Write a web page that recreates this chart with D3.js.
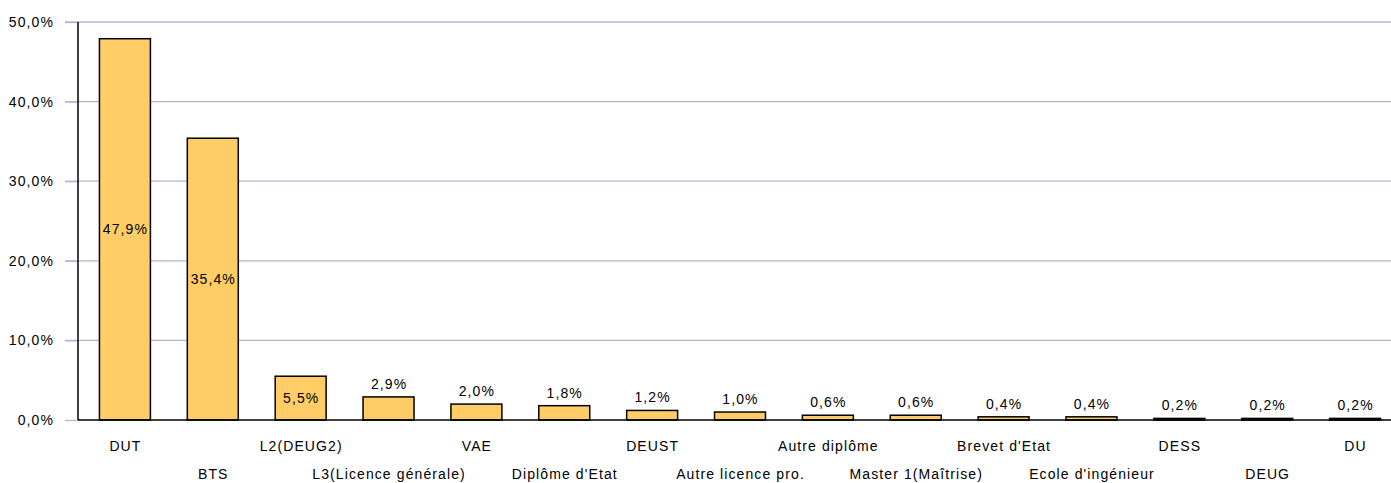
<!DOCTYPE html>
<html><head><meta charset="utf-8">
<script src="https://cdn.jsdelivr.net/npm/d3@7"></script>
<style>
body{margin:0;background:#fff;}
text{font-family:"Liberation Sans",Arial,sans-serif;font-size:14px;fill:#000;}
</style></head><body>
<svg id="c" width="1391" height="483"></svg>
<script>
const categories = ["DUT","BTS","L2(DEUG2)","L3(Licence générale)","VAE","Diplôme d'Etat","DEUST","Autre licence pro.","Autre diplôme","Master 1(Maîtrise)","Brevet d'Etat","Ecole d'ingénieur","DESS","DEUG","DU"];
const values = [47.9,35.4,5.5,2.9,2.0,1.8,1.2,1.0,0.6,0.6,0.4,0.4,0.2,0.2,0.2];
const yTicks = [0,10,20,30,40,50];

const svg = d3.select("#c");
const x0 = 78, yTop = 22, yBot = 420;
const LS = "1.1px";
const x = d3.scaleBand().domain(categories).range([81, 1399]).paddingInner(0.42).paddingOuter(0.21);
const y = d3.scaleLinear().domain([0,50]).range([yBot, yTop]);
const fmt = v => d3.format(".1f")(v).replace(".", ",") + "%";

// gridlines
svg.append("g").selectAll("line").data(yTicks.filter(t=>t>0)).join("line")
  .attr("x1", 65).attr("x2", 1391).attr("y1", d=>y(d)).attr("y2", d=>y(d))
  .attr("stroke", "#b4b4d2").attr("stroke-width", 1.3);

// y axis
const ya = svg.append("g").attr("transform", `translate(${x0},0)`)
  .call(d3.axisLeft(y).tickValues(yTicks).tickFormat(fmt).tickSize(13).tickPadding(11));
ya.select(".domain").remove();
ya.selectAll(".tick line").attr("stroke", "#b4b4d2").attr("stroke-width", 1.3);
ya.selectAll(".tick text").style("font-family","Liberation Sans, Arial, sans-serif").style("font-size","14px").style("letter-spacing", LS).attr("fill","#000");
svg.append("line").attr("x1", x0).attr("x2", x0).attr("y1", yTop).attr("y2", yBot).attr("stroke","#000").attr("stroke-width",1.5);

// bars
svg.append("g").selectAll("rect").data(values).join("rect")
  .attr("x", (d,i)=>x(categories[i])).attr("width", x.bandwidth())
  .attr("y", d=>y(d)).attr("height", d=>yBot - y(d))
  .attr("fill", "#ffcc66").attr("stroke", "#000").attr("stroke-width", 1.5);

// x axis line
svg.append("line").attr("x1", x0).attr("x2", 1391).attr("y1", yBot).attr("y2", yBot).attr("stroke","#000").attr("stroke-width",1.5);

// value labels
svg.append("g").selectAll("text").data(values).join("text")
  .attr("x", (d,i)=>x(categories[i]) + x.bandwidth()/2 + 0.5)
  .attr("y", d => d >= 5 ? (y(d)+yBot)/2 : y(d) - 8)
  .attr("dy", d => d >= 5 ? "0.35em" : "0")
  .attr("text-anchor", "middle")
  .style("letter-spacing", LS)
  .text(d=>fmt(d));

// category labels
svg.append("g").selectAll("text").data(categories).join("text")
  .attr("x", d=>x(d) + x.bandwidth()/2 + 0.5)
  .attr("y", (d,i)=> i%2===0 ? 451 : 479)
  .attr("text-anchor", "middle")
  .style("letter-spacing", LS)
  .text(d=>d);
</script>
</body></html>
